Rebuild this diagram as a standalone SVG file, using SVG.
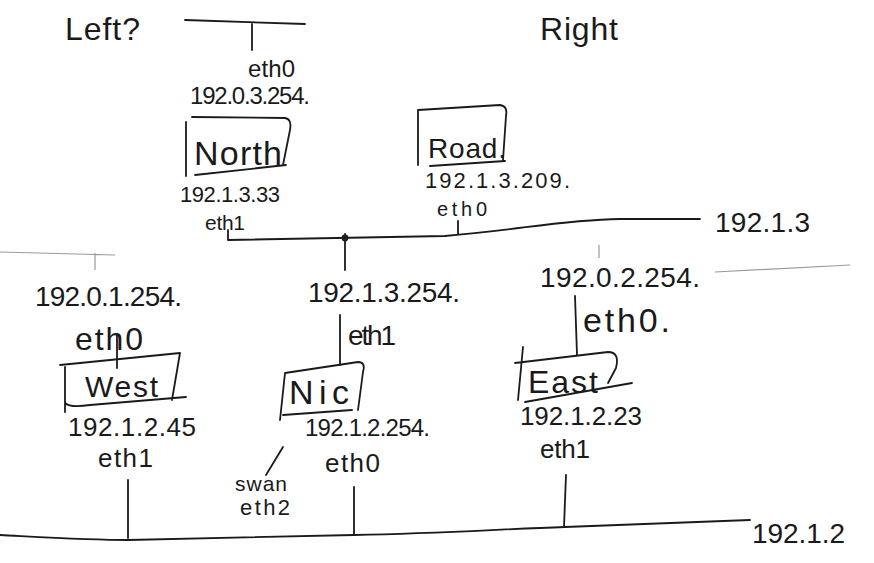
<svg xmlns="http://www.w3.org/2000/svg" width="874" height="563" viewBox="0 0 874 563">
<style>
text{font-family:"Liberation Sans","DejaVu Sans",sans-serif;fill:#1a1a1a}
.ln{fill:none;stroke:#1a1a1a;stroke-width:1.8;stroke-linecap:round;stroke-linejoin:round}
.fa{fill:none;stroke:#9a9a9a;stroke-width:1.2}
.box{fill:none;stroke:#1a1a1a;stroke-width:1.8;stroke-linecap:round;stroke-linejoin:round}
</style>
<rect width="874" height="563" fill="#fff"/>
<text x="65" y="40" font-size="32" textLength="75">Left?</text>
<text x="540" y="40" font-size="32" textLength="78">Right</text>
<g id="connectors">
  <path class="ln" d="M185,20 L305,24"/>
  <path class="ln" d="M252,24 L252,50"/>
  <path class="ln" d="M228,230 L228,240 L445,236 C520,230 560,220 620,219 L700,219"/>
  <path class="ln" d="M458,221 L458,234"/>
  <path class="ln" d="M345,234 L345,270"/>
  <circle cx="345" cy="238" r="2.5" class="ln"/>
  <path class="fa" d="M0,252 L115,255 M95,253 L95,270"/>
  <path class="fa" d="M715,272 L850,265 M599,245 L599,258"/>
  <path class="ln" d="M340,315 L340,365"/>
  <path class="ln" d="M117,335 L117,368"/>
  <path class="ln" d="M575,296 L577,355"/>
  <path class="ln" d="M283,447 L266,475"/>
  <path class="ln" d="M128,480 L128,538"/>
  <path class="ln" d="M354,487 L354,535"/>
  <path class="ln" d="M566,475 L564,527"/>
  <path class="ln" d="M0,535 C40,537 90,540 128,540 L354,535 C450,533 500,529 565,527 L750,520"/>
</g>
<g id="north">
  <text x="248" y="77" font-size="24" textLength="47">eth0</text>
  <text x="190" y="104" font-size="24" textLength="120">192.0.3.254.</text>
  <path class="box" d="M186,176 L186,122 M192,117 L285,118 Q292,119 290,130 L283,165 M195,175 L286,165"/>
  <text x="194" y="165" font-size="34" textLength="88">North</text>
  <text x="180" y="202" font-size="22" textLength="100">192.1.3.33</text>
  <text x="205" y="230" font-size="21" textLength="40">eth1</text>
</g>
<g id="road">
  <path class="box" d="M418,165 L418,110 L500,105 Q508,106 506,116 L503,160 M430,166 L505,161"/>
  <text x="428" y="158" font-size="28" textLength="78">Road.</text>
  <text x="425" y="188" font-size="22" textLength="145">192.1.3.209.</text>
  <text x="437" y="216" font-size="20" textLength="50">eth0</text>
</g>
<text x="715" y="232" font-size="28" textLength="95">192.1.3</text>
<g id="nic">
  <text x="308" y="302" font-size="28" textLength="152">192.1.3.254.</text>
  <text x="348" y="345" font-size="28" textLength="48">eth1</text>
  <path class="box" d="M280,420 L285,373 L358,362 Q366,362 363,372 L358,410 M283,415 L352,410"/>
  <text x="289" y="404" font-size="34" textLength="60">Nic</text>
  <text x="305" y="436" font-size="24" textLength="125">192.1.2.254.</text>
  <text x="325" y="472" font-size="26" textLength="55">eth0</text>
  <text x="235" y="491" font-size="21" textLength="52">swan</text>
  <text x="240" y="515" font-size="22" textLength="50">eth2</text>
</g>
<g id="west">
  <text x="35" y="306" font-size="28" textLength="147">192.0.1.254.</text>
  <text x="75" y="350" font-size="32" textLength="68">eth0</text>
  <path class="box" d="M60,365 L180,353 L172,400 M65,367 L65,412 M65,403 Q70,408 90,405 L186,397"/>
  <text x="85" y="397" font-size="30" textLength="73">West</text>
  <text x="68" y="436" font-size="26" textLength="128">192.1.2.45</text>
  <text x="98" y="467" font-size="26" textLength="55">eth1</text>
</g>
<g id="east">
  <text x="540" y="287" font-size="28" textLength="160">192.0.2.254.</text>
  <text x="583" y="332" font-size="34" textLength="87">eth0.</text>
  <path class="box" d="M523,347 L518,400 M515,363 L608,352 Q620,352 616,368 L608,383 M525,402 L632,383"/>
  <text x="528" y="393" font-size="32" textLength="70">East</text>
  <text x="520" y="425" font-size="26" textLength="122">192.1.2.23</text>
  <text x="540" y="458" font-size="26" textLength="50">eth1</text>
</g>
<text x="752" y="543" font-size="28" textLength="93">192.1.2</text>
</svg>
